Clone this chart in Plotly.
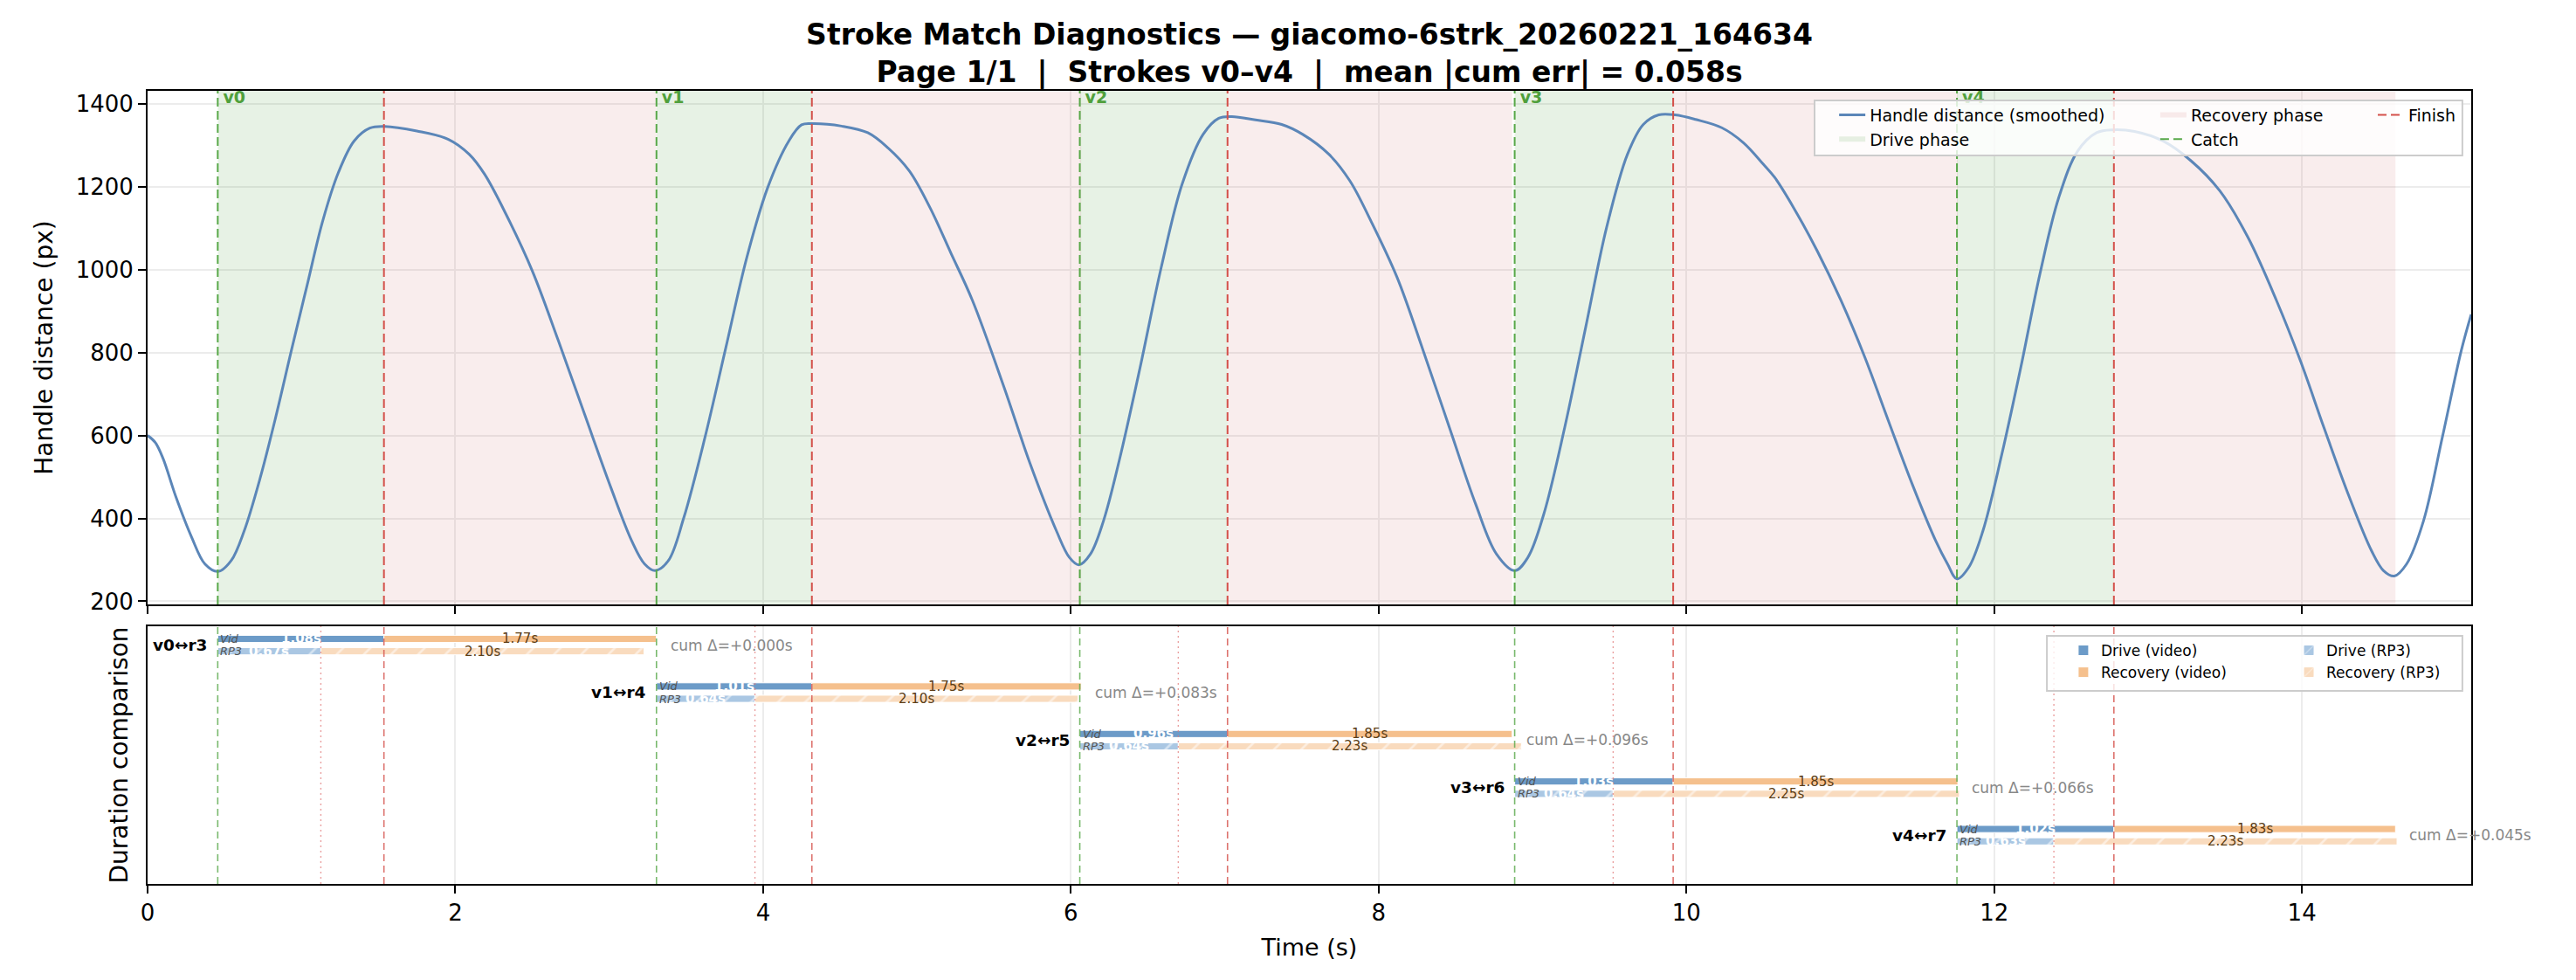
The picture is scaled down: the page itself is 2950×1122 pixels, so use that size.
import plotly.graph_objects as go

# ---------------- data ----------------
t_handle = [0.00, 0.05, 0.10, 0.185, 0.287, 0.373, 0.458, 0.543, 0.628, 0.73, 0.832, 0.934, 1.036, 1.138, 1.24,
            1.342, 1.444, 1.54, 1.75, 1.955, 2.09, 2.19, 2.33, 2.50, 2.67, 2.84, 3.01, 3.146, 3.23, 3.298,
            3.384, 3.485, 3.622, 3.758, 3.894, 4.03, 4.167, 4.25, 4.32, 4.51, 4.68, 4.81, 4.95, 5.085, 5.22,
            5.361, 5.566, 5.736, 5.906, 5.99, 6.052, 6.127, 6.212, 6.314, 6.45, 6.587, 6.723, 6.859, 6.961,
            7.046, 7.2, 7.37, 7.507, 7.677, 7.813, 7.95, 8.12, 8.29, 8.46, 8.63, 8.766, 8.885, 8.97, 9.073,
            9.209, 9.345, 9.481, 9.617, 9.72, 9.82, 9.926, 10.06, 10.23, 10.37, 10.5, 10.574, 10.697, 10.85,
            11.005, 11.16, 11.313, 11.467, 11.62, 11.697, 11.758, 11.835, 11.927, 12.05, 12.173, 12.297,
            12.42, 12.543, 12.666, 12.774, 12.912, 13.097, 13.28, 13.466, 13.65, 13.835, 13.99, 14.143,
            14.3, 14.452, 14.53, 14.6, 14.68, 14.79, 14.912, 15.035, 15.1]
d_handle = [600, 583, 545, 451, 354, 290, 272, 298, 370, 495, 643, 804, 961, 1117, 1234,
            1310, 1341, 1345, 1334, 1314, 1278, 1230, 1133, 997, 828, 651, 475, 346, 290, 274,
            298, 402, 595, 812, 1029, 1198, 1310, 1349, 1352, 1346, 1330, 1294, 1238, 1149, 1040,
            925, 716, 531, 370, 306, 288, 314, 394, 539, 764, 1005, 1206, 1326, 1365,
            1369, 1361, 1350, 1326, 1278, 1214, 1117, 981, 804, 619, 435, 314, 274, 306, 410,
            619, 860, 1101, 1278, 1350, 1373, 1373, 1362, 1342, 1306, 1254, 1222, 1149, 1045,
            925, 788, 635, 483, 346, 290, 254, 282, 370, 555, 764, 989,
            1174, 1286, 1330, 1337, 1333, 1310, 1262, 1190, 1077, 925, 780, 619,
            459, 322, 274, 261, 290, 394, 595, 804, 892]

catch_labels = ["v0", "v1", "v2", "v3", "v4"]
pair_labels = ["v0↔r3", "v1↔r4", "v2↔r5", "v3↔r6", "v4↔r7"]
catch_t = [0.456, 3.307, 6.058, 8.884, 11.758]
vid_drive = [1.08, 1.01, 0.96, 1.03, 1.02]
vid_rec = [1.77, 1.75, 1.85, 1.85, 1.83]
rp3_drive = [0.67, 0.64, 0.64, 0.64, 0.63]
rp3_rec = [2.10, 2.10, 2.23, 2.25, 2.23]
cum_err = [0.000, 0.083, 0.096, 0.066, 0.045]

TITLE = ("<b>Stroke Match Diagnostics — giacomo-6strk_20260221_164634<br>"
         "Page 1/1\u00a0 |\u00a0 Strokes v0–v4\u00a0 |\u00a0 mean |cum err| = 0.058s</b>")

# ---------------- derived positions ----------------
n = len(catch_t)
finish_t = [c + d for c, d in zip(catch_t, vid_drive)]
rec_end = [f + r for f, r in zip(finish_t, vid_rec)]
rp3_finish = [c + d for c, d in zip(catch_t, rp3_drive)]
rows = list(range(n))
OFF = 0.13
y_vid = [r - OFF for r in rows]
y_rp3 = [r + OFF for r in rows]

Y_TOP = (192.5, 1431)
Y_BOT = (5.026, -0.396)

FONT = "DejaVu Sans"
GREEN = "rgb(88,168,72)"
RED = "rgb(212,80,74)"
LINE_BLUE = "#5b86b8"
C_DV = "#6c9bc8"
C_RV = "#f5c08d"
C_DR = "#aac7e3"
C_RR = "#f9dbbe"
GRID = "#ececec"

fig = go.Figure()


def polys(x0s, x1s, y0, y1):
    xs, ys = [], []
    for a, b in zip(x0s, x1s):
        xs += [a, b, b, a, a, None]
        ys += [y0, y0, y1, y1, y0, None]
    return xs, ys


def vlines(xs_in, y0, y1):
    xs, ys = [], []
    for x in xs_in:
        xs += [x, x, None]
        ys += [y0, y1, None]
    return xs, ys


# --- top panel ---
dx, dy = polys(catch_t, finish_t, *Y_TOP)
fig.add_trace(go.Scatter(x=dx, y=dy, fill="toself", mode="none", fillcolor="rgba(60,150,40,0.12)",
                         name="Drive phase", legend="legend", legendrank=2, hoverinfo="skip"))
rx, ry = polys(finish_t, rec_end, *Y_TOP)
fig.add_trace(go.Scatter(x=rx, y=ry, fill="toself", mode="none", fillcolor="rgba(200,80,80,0.1)",
                         name="Recovery phase", legend="legend2", legendrank=1, hoverinfo="skip"))
fig.add_trace(go.Scatter(x=t_handle, y=d_handle, mode="lines", name="Handle distance (smoothed)",
                         line=dict(color=LINE_BLUE, width=3, shape="spline", smoothing=1.0),
                         legend="legend", legendrank=1))
cx, cy = vlines(catch_t, *Y_TOP)
fig.add_trace(go.Scatter(x=cx, y=cy, mode="lines", name="Catch",
                         line=dict(color=GREEN, width=2, dash="10px,5px"),
                         legend="legend2", legendrank=2, hoverinfo="skip"))
fx, fy = vlines(finish_t, *Y_TOP)
fig.add_trace(go.Scatter(x=fx, y=fy, mode="lines", name="Finish",
                         line=dict(color=RED, width=2, dash="10px,5px"),
                         legend="legend3", hoverinfo="skip"))
# catch labels (as a trace so the legend box sits above them, like the reference)
fig.add_trace(go.Scatter(x=catch_t, y=[Y_TOP[1]] * n, mode="text",
                         text=[f"\u00a0<b>{s}</b>" for s in catch_labels],
                         textposition="bottom right", cliponaxis=False, showlegend=False, hoverinfo="skip",
                         textfont=dict(size=19, color="rgb(80,160,60)", family=FONT)))

# --- bottom panel: reference lines ---
bx, by = vlines(catch_t, *Y_BOT)
fig.add_trace(go.Scatter(x=bx, y=by, mode="lines", xaxis="x2", yaxis="y2", showlegend=False,
                         line=dict(color="rgba(88,168,72,0.8)", width=1.6, dash="8px,5px"), hoverinfo="skip"))
bx, by = vlines(finish_t, *Y_BOT)
fig.add_trace(go.Scatter(x=bx, y=by, mode="lines", xaxis="x2", yaxis="y2", showlegend=False,
                         line=dict(color="rgba(212,80,74,0.8)", width=1.6, dash="8px,5px"), hoverinfo="skip"))
bx, by = vlines(rp3_finish, *Y_BOT)
fig.add_trace(go.Scatter(x=bx, y=by, mode="lines", xaxis="x2", yaxis="y2", showlegend=False,
                         line=dict(color="rgba(225,120,120,0.7)", width=1.4, dash="2px,4px"), hoverinfo="skip"))

# --- bottom panel: bars ---
BW = 0.15
fig.add_trace(go.Bar(orientation="h", y=y_vid, x=vid_drive, base=catch_t, width=BW, xaxis="x2", yaxis="y2",
                     marker=dict(color=C_DV, line=dict(color="white", width=1)),
                     name="Drive (video)", legend="legend4", legendrank=1))
fig.add_trace(go.Bar(orientation="h", y=y_vid, x=vid_rec, base=finish_t, width=BW, xaxis="x2", yaxis="y2",
                     marker=dict(color=C_RV, line=dict(color="white", width=1)),
                     name="Recovery (video)", legend="legend4", legendrank=2))
hatch = dict(shape="/", fgcolor="white", size=22, solidity=0.12)
fig.add_trace(go.Bar(orientation="h", y=y_rp3, x=rp3_drive, base=catch_t, width=BW, xaxis="x2", yaxis="y2",
                     marker=dict(color=C_DR, line=dict(color="white", width=1), pattern=hatch),
                     name="Drive (RP3)", legend="legend5", legendrank=1))
fig.add_trace(go.Bar(orientation="h", y=y_rp3, x=rp3_rec, base=rp3_finish, width=BW, xaxis="x2", yaxis="y2",
                     marker=dict(color=C_RR, line=dict(color="white", width=1), pattern=hatch),
                     name="Recovery (RP3)", legend="legend5", legendrank=2))

ann = []
for i in range(n):
    ann.append(dict(x=catch_t[i], y=rows[i], xref="x2", yref="y2", text=f"<b>{pair_labels[i]}</b>",
                    showarrow=False, xanchor="right", xshift=-10, font=dict(size=18.5, color="black", family=FONT)))
    ann.append(dict(x=catch_t[i], y=y_vid[i], xref="x2", yref="y2", text="<i>Vid</i>",
                    showarrow=False, xanchor="left", xshift=1, font=dict(size=13, color="#555555", family=FONT)))
    ann.append(dict(x=catch_t[i], y=y_rp3[i], xref="x2", yref="y2", text="<i>RP3</i>",
                    showarrow=False, xanchor="left", xshift=1, font=dict(size=13, color="#555555", family=FONT)))
    ann.append(dict(x=catch_t[i] + vid_drive[i] / 2, y=y_vid[i], xref="x2", yref="y2",
                    text=f"<b>{vid_drive[i]:.2f}s</b>", showarrow=False,
                    font=dict(size=15, color="white", family=FONT)))
    ann.append(dict(x=catch_t[i] + rp3_drive[i] / 2, y=y_rp3[i], xref="x2", yref="y2",
                    text=f"<b>{rp3_drive[i]:.2f}s</b>", showarrow=False,
                    font=dict(size=15, color="white", family=FONT)))
    ann.append(dict(x=finish_t[i] + vid_rec[i] / 2, y=y_vid[i], xref="x2", yref="y2",
                    text=f"{vid_rec[i]:.2f}s", showarrow=False,
                    font=dict(size=15, color="#5c3d14", family=FONT)))
    ann.append(dict(x=rp3_finish[i] + rp3_rec[i] / 2, y=y_rp3[i], xref="x2", yref="y2",
                    text=f"{rp3_rec[i]:.2f}s", showarrow=False,
                    font=dict(size=15, color="#5c3d14", family=FONT)))
    ann.append(dict(x=rec_end[i], y=rows[i], xref="x2", yref="y2",
                    text=f"cum Δ=+{cum_err[i]:.3f}s", showarrow=False, xanchor="left", xshift=14,
                    font=dict(size=17, color="#888888", family=FONT)))

shapes = [
    dict(type="rect", xref="paper", yref="paper", x0=0.7174, x1=0.9962, y0=0.9185, y1=0.9879,
         line=dict(color="#cccccc", width=2), fillcolor="rgba(255,255,255,0.8)", layer="above"),
    dict(type="rect", xref="paper", yref="paper", x0=0.8174, x1=0.9962, y0=0.2434, y1=0.3128,
         line=dict(color="#cccccc", width=2), fillcolor="rgba(255,255,255,0.8)", layer="above"),
]

leg_common = dict(bgcolor="rgba(0,0,0,0)", borderwidth=0, xanchor="left", yanchor="top",
                  traceorder="normal")
top_font = dict(size=19, family=FONT, color="black")
bot_font = dict(size=17, family=FONT, color="black")

axis_common = dict(showline=True, linecolor="black", linewidth=2, mirror=True, ticks="outside",
                   ticklen=9, tickwidth=2, tickcolor="black", zeroline=False,
                   tickfont=dict(size=26, family=FONT, color="black"))

fig.update_layout(
    width=2950, height=1122,
    margin=dict(l=169, r=120, t=104, b=110),
    paper_bgcolor="white", plot_bgcolor="white",
    font=dict(family=FONT, color="black"),
    barmode="overlay",
    title=dict(text=TITLE, x=0.5, xref="paper", y=1 - 51 / 1122, yref="container",
               xanchor="center", yanchor="middle", font=dict(size=33, family=FONT, color="black")),
    xaxis=dict(domain=[0, 1], range=[0, 15.1], dtick=2, tick0=0, anchor="y", showticklabels=False,
               showgrid=True, gridcolor=GRID, gridwidth=1.5, **axis_common),
    yaxis=dict(domain=[0.3524, 1], range=list(Y_TOP), tickvals=[200, 400, 600, 800, 1000, 1200, 1400],
               showgrid=True, gridcolor=GRID, gridwidth=1.5, anchor="x",
               title=dict(text="Handle distance (px)", font=dict(size=28, family=FONT), standoff=18),
               **axis_common),
    xaxis2=dict(domain=[0, 1], range=[0, 15.1], dtick=2, tick0=0, anchor="y2", matches="x",
                showgrid=True, gridcolor=GRID, gridwidth=1.5,
                title=dict(text="Time (s)", font=dict(size=27, family=FONT), standoff=16),
                **axis_common),
    yaxis2=dict(domain=[0, 0.3249], range=list(Y_BOT), anchor="x2", showline=True, linecolor="black",
                linewidth=2, mirror=True, ticks="", showticklabels=False, showgrid=False, zeroline=False,
                title=dict(text="Duration comparison", font=dict(size=28, family=FONT), standoff=12)),
    legend=dict(x=0.7261, y=0.9904, font=top_font, **leg_common),
    legend2=dict(x=0.8643, y=0.9904, font=top_font, **leg_common),
    legend3=dict(x=0.9579, y=0.9904, font=top_font, **leg_common),
    legend4=dict(x=0.8256, y=0.3139, font=bot_font, **leg_common),
    legend5=dict(x=0.9226, y=0.3139, font=bot_font, **leg_common),
    annotations=ann,
    shapes=shapes,
)

fig.write_html("out.html")
